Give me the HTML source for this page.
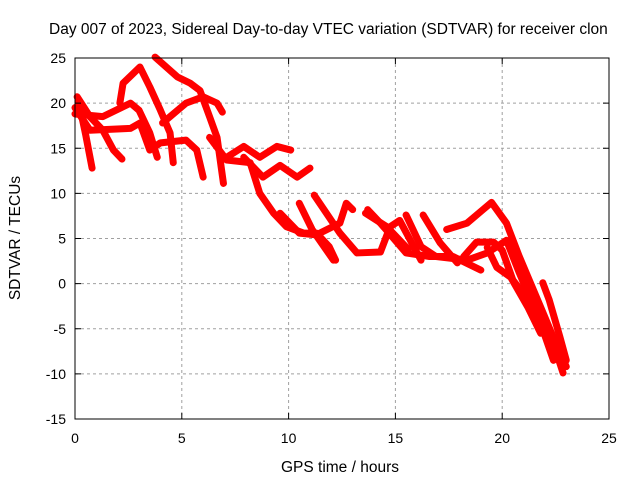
<!DOCTYPE html>
<html><head><meta charset="utf-8"><style>
body{margin:0;background:#fff}
svg{display:block;font-family:"Liberation Sans",sans-serif}
</style></head><body>
<svg width="640" height="480">
<rect width="640" height="480" fill="#fff"/>
<g id="grid"></g>
<g id="series"></g>
<rect x="75" y="58" width="534" height="361" fill="none" stroke="#000" stroke-width="1"/>
<g id="ticks" font-size="14" fill="#000"></g>
<text x="49" y="34" font-size="15.5">Day 007 of 2023, Sidereal Day-to-day VTEC variation (SDTVAR) for receiver clon</text>
<text x="340" y="472" font-size="15.5" text-anchor="middle">GPS time / hours</text>
<text transform="translate(20,238) rotate(-90)" font-size="15.5" text-anchor="middle">SDTVAR / TECUs</text>
</svg>
<script>
const xTicks=[0,5,10,15,20,25];
const yTicks=[-15,-10,-5,0,5,10,15,20,25];
const traceA=[[2.1,20],[2.25,22.2],[3.04,24],[3.5,21.8],[4,19.2],[4.45,16.7],[4.6,13.4]];
const traceB=[[3.75,25.1],[4.8,22.9],[5.4,22.2],[5.85,21.4],[6.3,18.5],[6.65,16.2],[6.95,11.1]];
const traceC=[[0.1,20.7],[0.7,18.5],[1.3,17],[1.8,14.8],[2.2,13.8]];
const traceC2=[[0.15,20.4],[0.5,16.5],[0.8,12.8]];
const traceD=[[4.1,17.8],[5.2,20],[6,20.7],[6.65,20],[6.9,19]];
const traceE=[[0,18.8],[1.3,18.5],[2.6,20],[3,19.2],[3.5,16.7],[3.85,14]];
const traceF=[[0,19.5],[0.7,17],[2.6,17.2],[3.04,17.8],[3.5,14.8],[4,15.6],[5.2,15.9],[5.7,14.8],[6,11.8]];
const traceG=[[6.3,16.2],[7.1,13.7],[8.2,13.4],[8.65,10],[9.3,7.8],[9.9,6.3],[10.7,5.6],[11.3,5.6],[11.9,4.1],[12.2,2.6]];
const traceH=[[7.1,14],[7.9,15.2],[8.65,14],[9.45,15.2],[10.1,14.8]];
const traceI=[[7.9,14],[8.8,11.8],[9.6,13.1],[10.4,11.8],[11,12.8]];
const traceK=[[9.6,7.8],[10.5,5.6],[11.3,5.4],[12.4,6.7],[12.7,8.9],[13,8.2]];
const traceL=[[10.5,8.9],[11.1,6],[12.1,2.6]];
const traceM=[[11.2,9.8],[12.4,5.6],[13.2,3.4],[14.3,3.5],[14.75,6.3],[15.2,7],[15.7,4.8],[16.2,2.6]];
const traceN=[[13.7,8.2],[14.3,6.7],[15.5,3.4],[16.6,3],[17.7,3],[19,1.5]];
const traceO=[[15.5,7.6],[16.2,4.1],[16.9,3],[18.35,2.6],[19.3,3.4],[20.2,4.8],[20.8,1.2],[21.6,-3.3],[22.6,-8.1],[22.85,-9.9]];
const traceP=[[16.3,7.6],[17.1,4.5],[17.9,2.3]];
const traceQ=[[17.4,6],[18.35,6.7],[19.1,8.2],[19.5,9],[20.2,6.7],[20.8,3],[21.8,-2.6],[22.4,-6],[23,-9.2]];
const traceR=[[18.2,3],[18.8,4.6],[19.6,4.6],[20,3.7],[20.5,0.4],[21.2,-1.8],[21.9,-5.1],[22.4,-8.5]];
const traceS=[[19.3,4],[19.75,1.8],[20.4,0.7],[21.2,-2.6],[21.8,-5.5]];
const traceT=[[21.9,0.1],[22.2,-1.8],[22.7,-5.9],[23,-8.5]];
const traceU=[[13.6,7.8],[14.6,6.3],[15.6,3.8]];
const traces=[traceA,traceB,traceC,traceC2,traceD,traceE,traceF,traceG,traceH,traceI,traceK,traceL,traceM,traceN,traceO,traceP,traceQ,traceR,traceS,traceT,traceU];
const X0=75,X1=609,Y0=419,Y1=58;
const sx=v=>X0+(v-0)/(25-0)*(X1-X0);
const sy=v=>Y0-(v+15)/(40)*(Y0-Y1);
const NS='http://www.w3.org/2000/svg';
const grid=document.getElementById('grid'),tk=document.getElementById('ticks'),ser=document.getElementById('series');
function mk(t,a,p){const e=document.createElementNS(NS,t);for(const k in a)e.setAttribute(k,a[k]);p.appendChild(e);return e;}
xTicks.forEach(v=>{const x=sx(v);
 if(v>0&&v<25){const l=mk('line',{x1:x,x2:x,y1:Y1,y2:Y0,stroke:'#a0a0a0','stroke-dasharray':'3,3'},grid);
 
 }
 mk('line',{x1:x,x2:x,y1:Y0,y2:Y0-6,stroke:'#000'},tk);mk('line',{x1:x,x2:x,y1:Y1,y2:Y1+6,stroke:'#000'},tk);
 const t=mk('text',{x:x,y:443,'text-anchor':'middle'},tk);t.textContent=v;
 
 });
yTicks.forEach(v=>{const y=sy(v);
 if(v>-15&&v<25){const l=mk('line',{x1:X0,x2:X1,y1:y,y2:y,stroke:'#a0a0a0','stroke-dasharray':'3,3'},grid);
 
 }
 mk('line',{x1:X0,x2:X0+6,y1:y,y2:y,stroke:'#000'},tk);mk('line',{x1:X1,x2:X1-6,y1:y,y2:y,stroke:'#000'},tk);
 const t=mk('text',{x:66,y:y+5,'text-anchor':'end'},tk);t.textContent=v;
 
 });
traces.forEach(tr=>{const p=mk('polyline',{points:tr.map(d=>sx(d[0])+','+sy(d[1])).join(' '),fill:'none',stroke:'#ff0000','stroke-width':7,'stroke-linejoin':'round','stroke-linecap':'round'},ser);
 
 });
</script>
</body></html>
